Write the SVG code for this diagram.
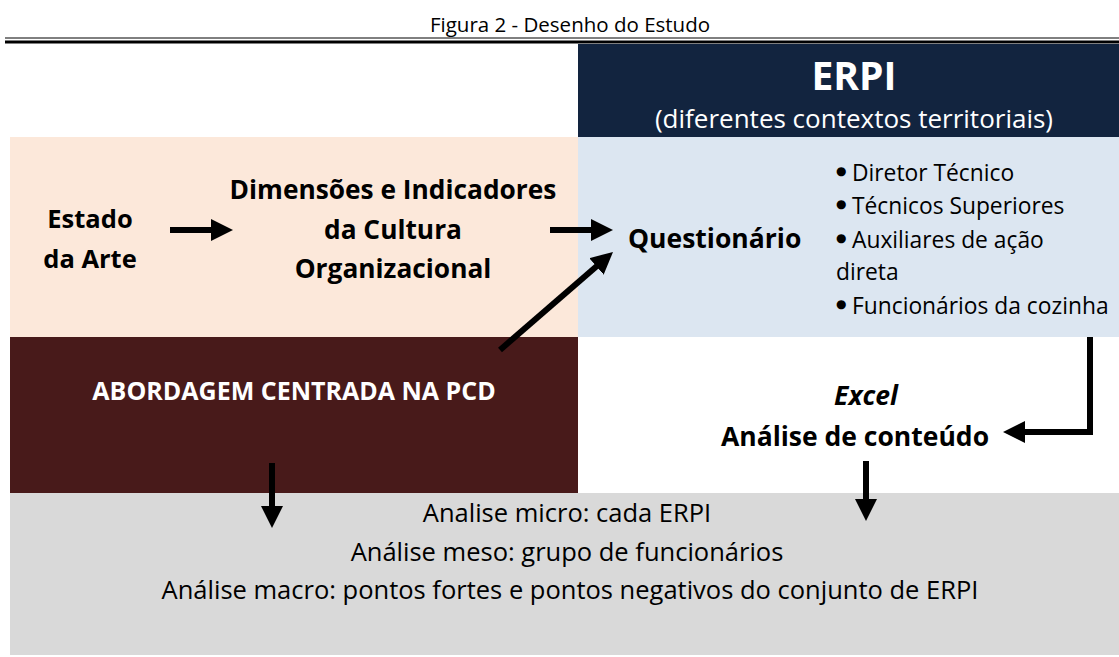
<svg xmlns="http://www.w3.org/2000/svg" width="1119" height="657" viewBox="0 0 1119 657">
<defs>
<style>
text{font-family:"Open Sans","Noto Sans","Liberation Sans",sans-serif;fill:#000}
.b{font-weight:bold}
.w{fill:#fff}
.c{text-anchor:middle}
.conn{stroke:#000;stroke-width:6;fill:none}
.dot{font-size:12px;font-family:"DejaVu Sans",sans-serif}
</style>
<marker id="ah" viewBox="0 0 10 10" markerUnits="userSpaceOnUse" markerWidth="22" markerHeight="22" refX="5" refY="5" orient="auto">
<path d="M0,0 L10,5 L0,10 z" fill="#000"/>
</marker>
</defs>
<rect width="1119" height="657" fill="#fff"/>
<g id="title">
<text x="570" y="32" class="c" font-size="20.5">Figura 2 - Desenho do Estudo</text>
<line x1="5" y1="38" x2="1119" y2="38" stroke="#000" stroke-width="1"/>
<line x1="5" y1="42" x2="1119" y2="42" stroke="#000" stroke-width="3"/>
</g>
<g id="erpi">
<rect x="578" y="44" width="541" height="93" fill="#12243f"/>
<text x="854" y="90" class="c b w" font-size="39">ERPI</text>
<text x="854" y="128" class="c w" font-size="26">(diferentes contextos territoriais)</text>
</g>
<g id="peach">
<rect x="10" y="137" width="568" height="200" fill="#fce8da"/>
</g>
<g id="questionario">
<rect x="578" y="137" width="541" height="200" fill="#dce6f1"/>
<text x="628" y="248" class="b" font-size="26.5">Questionário</text>
<text font-size="22.8">
<tspan x="836" y="175" class="dot">●</tspan><tspan x="852" y="181">Diretor Técnico</tspan>
<tspan x="836" y="208" class="dot">●</tspan><tspan x="852" y="214">Técnicos Superiores</tspan>
<tspan x="836" y="242" class="dot">●</tspan><tspan x="852" y="248">Auxiliares de ação</tspan>
<tspan x="836" y="280">direta</tspan>
<tspan x="836" y="308" class="dot">●</tspan><tspan x="852" y="314">Funcionários da cozinha</tspan>
</text>
</g>
<g id="estado">
<text class="c b" font-size="25.5"><tspan x="90" y="228">Estado</tspan><tspan x="90" y="268">da Arte</tspan></text>
</g>
<g id="dimensoes">
<text class="c b" font-size="26.3"><tspan x="393" y="199">Dimensões e Indicadores</tspan><tspan x="393" y="239">da Cultura</tspan><tspan x="393" y="278">Organizacional</tspan></text>
</g>
<g id="abordagem">
<rect x="10" y="337" width="568" height="156" fill="#481a1a"/>
<text x="294" y="400" class="c b w" font-size="25">ABORDAGEM CENTRADA NA PCD</text>
</g>
<g id="analise-conteudo">
<text x="866" y="405" class="c b" font-size="26.5" font-style="italic">Excel</text>
<text x="855" y="446" class="c b" font-size="26.5">Análise de conteúdo</text>
</g>
<g id="analises">
<rect x="10" y="493" width="1109" height="162" fill="#d9d9d9"/>
<text class="c" font-size="25.5"><tspan x="567" y="522">Analise micro: cada ERPI</tspan><tspan x="567" y="561">Análise meso: grupo de funcionários</tspan><tspan x="570" y="599">Análise macro: pontos fortes e pontos negativos do conjunto de ERPI</tspan></text>
</g>
<g id="connectors">
<line class="conn" x1="170" y1="230" x2="222" y2="230" marker-end="url(#ah)"/>
<line class="conn" x1="550" y1="230" x2="602" y2="230" marker-end="url(#ah)"/>
<line class="conn" x1="500" y1="350" x2="604.7" y2="259.2" marker-end="url(#ah)"/>
<path class="conn" d="M1090,337 V432 H1014" marker-end="url(#ah)"/>
<line class="conn" x1="272" y1="463" x2="272" y2="517" marker-end="url(#ah)"/>
<line class="conn" x1="866" y1="461" x2="866" y2="510" marker-end="url(#ah)"/>
</g>
</svg>
